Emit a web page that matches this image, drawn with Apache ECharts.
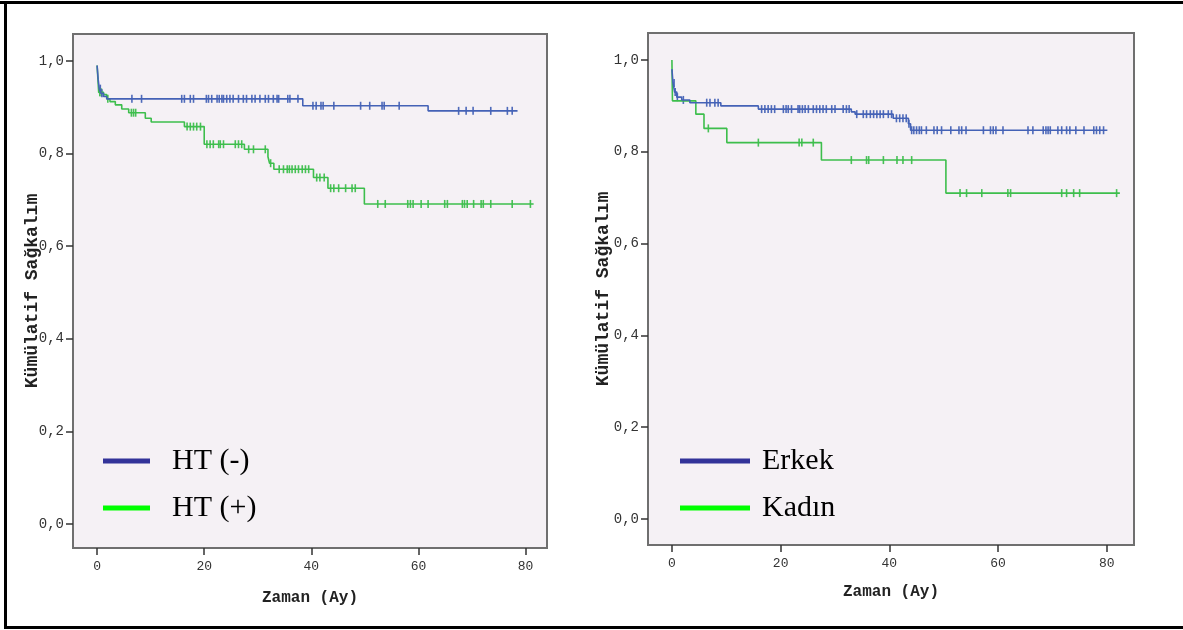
<!DOCTYPE html>
<html>
<head>
<meta charset="utf-8">
<script src="https://cdn.jsdelivr.net/npm/echarts@6/dist/echarts.min.js"></script>
<style>
html,body{margin:0;padding:0;background:#fff;}
#chart{width:1183px;height:630px;}
</style>
</head>
<body>
<div id="chart"></div>
<script>
// ---- tick labels ----
const yTicks = [0, 0.2, 0.4, 0.6, 0.8, 1.0];
const yTickLabels = ['0,0', '0,2', '0,4', '0,6', '0,8', '1,0'];
const xTicks = [0, 20, 40, 60, 80];
const xTickLabels = ['0', '20', '40', '60', '80'];

// ---- left panel: HT (-) ----
const htNegTimes  = [0, 0.2, 0.4, 0.7, 1.2, 1.8, 38.4, 61.8];
const htNegValues = [0.99, 0.96, 0.94, 0.93, 0.923, 0.918, 0.903, 0.892];
const htNegEnd = 78.5;
const htNegCensor = [0.6, 0.9, 6.5, 8.3, 15.8, 16.3, 17.4, 18.0, 20.4, 20.8, 21.4, 22.4, 22.8, 23.3, 23.6, 24.2, 24.8, 25.4, 26.4, 27.3, 27.9, 28.9, 29.5, 30.4, 31.4, 32.0, 32.9, 33.6, 33.9, 35.6, 36.0, 37.5, 40.3, 40.9, 41.8, 42.2, 44.2, 49.2, 50.9, 53.2, 53.6, 56.4, 67.5, 68.9, 70.2, 73.5, 76.6, 77.5];

// ---- left panel: HT (+) ----
const htPosTimes  = [0, 0.3, 1.2, 1.8, 2.4, 3.4, 4.6, 5.9, 9.0, 10.1, 16.3, 20.0, 27.5, 31.9, 32.2, 33.0, 40.4, 43.1, 49.9];
const htPosValues = [0.99, 0.932, 0.927, 0.918, 0.912, 0.905, 0.896, 0.888, 0.876, 0.868, 0.858, 0.820, 0.809, 0.793, 0.779, 0.766, 0.748, 0.725, 0.691];
const htPosEnd = 81.5;
const htPosCensor = [0.5, 0.8, 2.0, 6.4, 6.8, 7.2, 16.8, 17.4, 18.0, 18.6, 19.3, 20.5, 21.1, 21.7, 22.7, 23.0, 23.6, 25.8, 26.4, 27.0, 28.3, 29.2, 31.4, 32.4, 34.0, 34.8, 35.5, 35.9, 36.4, 37.0, 37.6, 38.3, 38.9, 39.5, 41.0, 41.6, 42.4, 43.6, 44.2, 45.1, 46.4, 47.6, 48.2, 52.4, 53.8, 58.0, 58.5, 59.0, 60.5, 61.8, 64.9, 65.4, 68.2, 68.6, 69.1, 70.3, 71.7, 72.1, 73.5, 77.5, 80.9];

// ---- right panel: Erkek ----
const erkekTimes  = [0, 0.2, 0.5, 0.9, 1.8, 3.3, 9.0, 15.9, 33.0, 33.7, 40.7, 43.5, 43.9];
const erkekValues = [0.98, 0.95, 0.93, 0.919, 0.913, 0.907, 0.900, 0.893, 0.887, 0.882, 0.873, 0.861, 0.847];
const erkekEnd = 80.1;
const erkekCensor = [0.4, 0.6, 1.0, 2.1, 6.4, 7.0, 7.9, 8.5, 16.5, 17.1, 17.7, 18.3, 18.9, 20.5, 21.0, 21.4, 22.0, 23.2, 23.5, 24.0, 24.5, 25.1, 26.0, 26.6, 27.2, 27.8, 28.4, 29.4, 30.0, 31.5, 32.1, 32.6, 34.0, 35.2, 35.8, 36.5, 37.1, 37.7, 38.3, 38.9, 39.8, 40.4, 41.3, 41.9, 42.5, 43.1, 43.6, 44.1, 44.5, 45.0, 45.5, 45.9, 46.8, 48.2, 48.8, 49.6, 51.3, 52.8, 53.3, 54.1, 57.3, 58.6, 59.1, 59.6, 60.9, 65.5, 66.4, 68.3, 68.8, 69.2, 69.6, 71.0, 71.7, 72.6, 73.2, 74.3, 75.8, 77.6, 78.1, 78.7, 79.4];

// ---- right panel: Kadın ----
const kadinTimes  = [0, 0.1, 4.4, 5.9, 10.1, 27.5, 50.4];
const kadinValues = [1.0, 0.911, 0.882, 0.851, 0.820, 0.782, 0.710];
const kadinEnd = 82.4;
const kadinCensor = [6.7, 15.9, 23.4, 23.9, 26.0, 33.0, 35.8, 36.2, 38.9, 41.4, 42.5, 44.1, 53.0, 54.2, 57.0, 61.8, 62.3, 71.7, 72.6, 73.9, 75.0, 81.8];

// ---- helpers (build library data from the arrays) ----
function stepData(times, values, end) {
  const d = times.map((t, i) => [t, values[i]]);
  d.push([end, values[values.length - 1]]);
  return d;
}
function survivalAt(times, values, t) {
  let v = values[0];
  for (let i = 0; i < times.length; i++) { if (times[i] <= t) v = values[i]; }
  return v;
}
function censorData(times, values, cens) {
  return cens.map(t => [t, survivalAt(times, values, t)]);
}

const BLUE = '#4462B6';
const GREEN = '#3DBE4C';
const LEG_BLUE = '#333399';
const LEG_GREEN = '#00FF00';
const MONO = '"Liberation Mono", "DejaVu Sans Mono", monospace';
const SERIF = '"Liberation Serif", "DejaVu Serif", serif';

function yLabel(v) {
  const i = yTicks.findIndex(t => Math.abs(t - v) < 1e-6);
  return i >= 0 ? yTickLabels[i] : '';
}
function xLabel(v) {
  const i = xTicks.findIndex(t => Math.abs(t - v) < 1e-6);
  return i >= 0 ? xTickLabels[i] : '';
}

function xAxisCfg(gridIndex, min, max, gap) {
  return {
    type: 'value', gridIndex, min, max,
    name: 'Zaman (Ay)', nameLocation: 'middle', nameGap: gap,
    nameTextStyle: { fontFamily: MONO, fontWeight: 'bold', fontSize: 16, color: '#222' },
    axisLine: { show: false, onZero: false },
    axisTick: { show: true, length: 7, customValues: xTicks, lineStyle: { color: '#333', width: 1.5 } },
    axisLabel: { customValues: xTicks, formatter: xLabel, fontFamily: MONO, fontSize: 13, color: '#333', margin: 12 },
    splitLine: { show: false }
  };
}
function yAxisCfg(gridIndex, min, max, gap) {
  return {
    type: 'value', gridIndex, min, max,
    name: 'Kümülatif Sağkalım', nameLocation: 'middle', nameGap: gap, nameMoveOverlap: false,
    nameTextStyle: { fontFamily: MONO, fontWeight: 'bold', fontSize: 18, color: '#222' },
    axisLine: { show: false, onZero: false },
    axisTick: { show: true, length: 7, customValues: yTicks, lineStyle: { color: '#333', width: 1.5 } },
    axisLabel: { customValues: yTicks, formatter: yLabel, fontFamily: MONO, fontSize: 14, color: '#333', margin: 9 },
    splitLine: { show: false }
  };
}
function lineSeries(name, idx, data, color) {
  return { name, type: 'line', xAxisIndex: idx, yAxisIndex: idx, data, step: 'end',
    showSymbol: false, lineStyle: { color, width: 1.6 }, itemStyle: { color }, silent: true };
}
function censorSeries(name, idx, data, color) {
  return { name, type: 'scatter', xAxisIndex: idx, yAxisIndex: idx, data,
    symbol: 'rect', symbolSize: [1.6, 8], itemStyle: { color, opacity: 0.95 }, silent: true };
}
function legendCfg(name, color, left, top, iconW, pad) {
  return {
    show: true, orient: 'vertical', left, top, padding: 0,
    icon: 'rect', itemWidth: iconW, itemHeight: 5, selectedMode: false,
    data: [{ name, itemStyle: { color, borderWidth: 0 } }],
    textStyle: { fontFamily: SERIF, fontSize: 30, color: '#000', lineHeight: 34, padding: pad }
  };
}

const chart = echarts.init(document.getElementById('chart'), null, { renderer: 'canvas' });
chart.setOption({
  animation: false,
  backgroundColor: '#fff',
  grid: [
    { left: 73, top: 34, width: 474, height: 514, show: true, backgroundColor: '#F5F1F5', borderColor: '#6F6F6F', borderWidth: 2 },
    { left: 648, top: 33, width: 486, height: 512, show: true, backgroundColor: '#F5F1F5', borderColor: '#6F6F6F', borderWidth: 2 }
  ],
  xAxis: [ xAxisCfg(0, -4.5, 84, 42), xAxisCfg(1, -4.4, 85, 39) ],
  yAxis: [ yAxisCfg(0, -0.052, 1.058, 32), yAxisCfg(1, -0.0566, 1.0588, 36) ],
  legend: [
    legendCfg('HT (-)', LEG_BLUE, 103, 444, 47, [0, 0, 0, 17]),
    legendCfg('HT (+)', LEG_GREEN, 103, 491, 47, [0, 0, 0, 17]),
    legendCfg('Erkek', LEG_BLUE, 680, 440, 70, [8, 0, 0, 7]),
    legendCfg('Kadın', LEG_GREEN, 680, 483, 70, [0, 0, 16, 7])
  ],
  series: [
    lineSeries('HT (+)', 0, stepData(htPosTimes, htPosValues, htPosEnd), GREEN),
    censorSeries('HT (+)', 0, censorData(htPosTimes, htPosValues, htPosCensor), GREEN),
    lineSeries('HT (-)', 0, stepData(htNegTimes, htNegValues, htNegEnd), BLUE),
    censorSeries('HT (-)', 0, censorData(htNegTimes, htNegValues, htNegCensor), BLUE),
    lineSeries('Kadın', 1, stepData(kadinTimes, kadinValues, kadinEnd), GREEN),
    censorSeries('Kadın', 1, censorData(kadinTimes, kadinValues, kadinCensor), GREEN),
    lineSeries('Erkek', 1, stepData(erkekTimes, erkekValues, erkekEnd), BLUE),
    censorSeries('Erkek', 1, censorData(erkekTimes, erkekValues, erkekCensor), BLUE)
  ],
  graphic: [
    { type: 'rect', silent: true, shape: { x: 0, y: 1, width: 1183, height: 3 }, style: { fill: '#000' } },
    { type: 'rect', silent: true, shape: { x: 4, y: 1, width: 3, height: 628 }, style: { fill: '#000' } },
    { type: 'rect', silent: true, shape: { x: 4, y: 626, width: 1179, height: 3 }, style: { fill: '#000' } }
  ]
});
</script>
</body>
</html>
